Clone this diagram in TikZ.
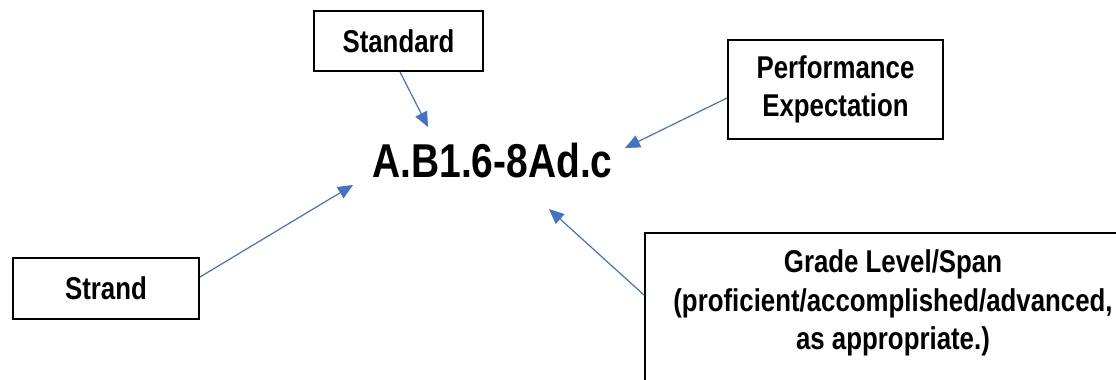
\documentclass[tikz,border=0pt]{standalone}
\usepackage{fontspec}
\newfontfamily\nar{Liberation Sans}[FakeStretch=0.82]
\usetikzlibrary{arrows.meta}
\definecolor{arrowblue}{HTML}{4472C4}
\begin{document}
\begin{tikzpicture}[x=1pt,y=-1pt,
  box/.style={draw=black, line width=2pt, inner sep=0pt, align=center,
    font=\nar\bfseries\fontsize{31.5}{37.8}\selectfont},
  txt/.style={inner sep=0pt, align=center,
    font=\nar\bfseries\fontsize{31.5}{38.5}\selectfont},
  conn/.style={draw=arrowblue, line width=1.2pt,
    -{Triangle[length=15pt,width=13pt]}}]
\clip (0,0) rectangle (1116,380);
\fill[white] (0,0) rectangle (1116,380);
\node[box, minimum width=169pt, minimum height=60pt] (std) at (398.5,41) {Standard};
\node[box, minimum width=215pt, minimum height=99pt] (pe) at (835.5,89.5) {Performance\\Expectation};
\node[box, minimum width=186pt, minimum height=61pt] (strand) at (106,288.5) {Strand};
\node[draw=black, line width=2pt, inner sep=0pt, minimum width=496pt, minimum height=200pt] (gradebox) at (893,333) {};
\node[txt] (gradetxt) at (893,303) {Grade Level/Span\\(proficient/accomplished/advanced,\\as appropriate.)};
\node[inner sep=0pt, anchor=base, font=\nar\bfseries\fontsize{47.5}{57}\selectfont] (code) at (492.5,177) {A.B1.6-8Ad.c};
\coordinate (tstd) at (428,127);
\coordinate (tpe) at (625,148);
\coordinate (tstrand) at (353,185);
\coordinate (tgrade) at (549,209);
\draw[conn] ([xshift=1.5pt]std.south) -- (tstd);
\draw[conn] ([yshift=-8.5pt]pe.west) -- (tpe);
\draw[conn] ([yshift=11.5pt]strand.east) -- (tstrand);
\draw[conn] ([yshift=38pt]gradebox.west) -- (tgrade);
\end{tikzpicture}
\end{document}
